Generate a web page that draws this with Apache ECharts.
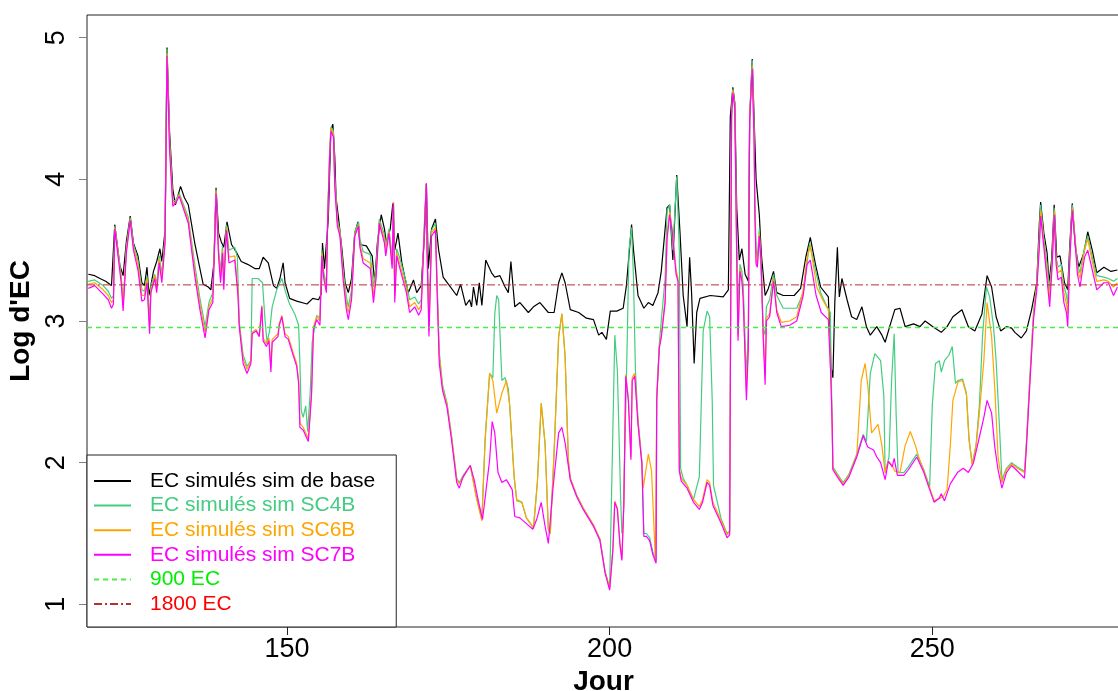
<!DOCTYPE html>
<html>
<head>
<meta charset="utf-8">
<script src="https://cdn.jsdelivr.net/npm/echarts@6.0.0/dist/echarts.min.js"></script>
<style>
  html, body { margin: 0; padding: 0; background: #fff; }
  #chart { width: 1118px; height: 691px; }
</style>
</head>
<body>
<div id="chart"></div>
<script>
// axis ranges and ticks
const dayMin = 119, dayMax = 279.1;
const logMin = 0.84, logMax = 5.16;
const dayTicks = [150, 200, 250];
const logTicks = [1, 2, 3, 4, 5];

// thresholds (log10 of EC)
const seuil900 = 2.954;
const seuil1800 = 3.255;

// [jour, log EC]
const simBase = [[119.2,3.33],[120.2,3.32],[121.0,3.30],[121.9,3.28],[122.8,3.25],[123.3,3.68],[124.1,3.39],[124.6,3.32],[125.1,3.56],[125.7,3.74],[126.2,3.55],[126.9,3.46],[127.5,3.27],[127.9,3.25],[128.3,3.38],[128.6,3.18],[129.3,3.35],[129.8,3.42],[130.3,3.51],[130.6,3.42],[131.1,3.64],[131.4,4.93],[131.8,4.33],[132.3,3.93],[132.7,3.82],[133.5,3.95],[134.1,3.87],[134.7,3.82],[135.7,3.55],[136.5,3.37],[137.0,3.26],[137.8,3.24],[138.2,3.22],[138.7,3.42],[139.0,3.94],[139.4,3.62],[139.8,3.56],[140.2,3.52],[140.7,3.70],[141.4,3.54],[142.1,3.49],[142.9,3.42],[143.9,3.40],[145.0,3.37],[145.7,3.37],[146.3,3.45],[147.1,3.41],[147.9,3.25],[148.4,3.23],[148.9,3.30],[149.4,3.41],[149.7,3.27],[150.4,3.16],[151.5,3.14],[153.1,3.12],[154.0,3.16],[154.9,3.15],[155.3,3.19],[155.5,3.55],[155.8,3.37],[156.4,3.72],[156.8,4.35],[157.1,4.39],[157.4,4.16],[157.6,3.87],[158.0,3.72],[158.5,3.51],[159.0,3.27],[159.5,3.20],[160.0,3.30],[160.5,3.62],[161.0,3.70],[161.3,3.54],[162.3,3.53],[163.2,3.46],[163.6,3.27],[164.0,3.55],[164.6,3.75],[165.1,3.65],[165.4,3.55],[166.0,3.65],[166.4,3.83],[166.7,3.50],[167.2,3.62],[167.8,3.41],[168.3,3.30],[168.8,3.20],[169.6,3.29],[170.1,3.20],[170.8,3.25],[171.3,3.60],[171.6,3.97],[171.9,3.37],[172.4,3.65],[173.0,3.72],[173.5,3.50],[174.2,3.31],[175.0,3.26],[176.3,3.18],[176.9,3.26],[177.7,3.11],[178.3,3.15],[178.6,3.10],[178.9,3.24],[179.4,3.11],[179.8,3.27],[180.2,3.11],[180.8,3.43],[181.7,3.34],[182.2,3.31],[183.0,3.32],[183.8,3.24],[184.3,3.20],[184.7,3.42],[185.3,3.10],[186.1,3.13],[187.4,3.06],[188.2,3.10],[189.2,3.13],[190.5,3.06],[191.4,3.06],[192.1,3.27],[192.6,3.34],[193.1,3.27],[193.9,3.08],[195.2,3.06],[196.4,3.02],[197.5,3.01],[198.3,2.90],[198.8,2.92],[199.5,2.87],[200.1,3.07],[201.1,3.07],[202.1,3.09],[202.6,3.25],[203.4,3.68],[203.7,3.50],[204.4,3.18],[205.3,3.09],[206.0,3.13],[206.7,3.11],[207.5,3.20],[208.0,3.35],[208.9,3.80],[209.3,3.82],[209.8,3.43],[210.4,4.03],[210.9,3.63],[211.4,3.18],[212.0,2.96],[212.4,3.45],[212.7,3.20],[213.1,2.70],[213.5,3.06],[214.0,3.16],[215.6,3.18],[217.6,3.17],[218.4,3.22],[218.7,4.44],[219.1,4.65],[219.4,4.54],[219.7,3.80],[220.1,3.43],[220.5,3.51],[221.0,3.33],[221.5,3.28],[221.7,4.42],[222.1,4.85],[222.4,4.42],[222.7,4.00],[223.2,3.75],[223.5,3.48],[224.1,3.18],[224.6,3.23],[225.4,3.35],[225.9,3.20],[226.9,3.18],[228.6,3.18],[229.6,3.23],[230.4,3.45],[231.1,3.59],[231.9,3.40],[232.7,3.24],[233.9,3.17],[234.3,2.68],[234.6,2.60],[234.9,3.13],[235.3,3.52],[235.6,3.17],[236.0,3.30],[236.8,3.15],[237.5,3.03],[238.3,3.01],[239.1,3.10],[239.8,2.96],[240.4,2.90],[241.4,2.96],[242.2,2.90],[242.7,2.85],[243.4,2.96],[244.2,3.08],[245.0,3.09],[245.8,2.96],[247.1,2.98],[248.1,2.96],[248.9,3.00],[250.1,2.96],[251.4,2.92],[252.3,2.96],[253.2,3.03],[254.6,3.08],[255.6,2.96],[256.6,2.93],[257.7,3.05],[258.5,3.32],[259.2,3.24],[259.9,3.03],[260.6,2.93],[261.5,2.96],[262.3,2.95],[262.8,2.92],[263.8,2.88],[264.6,2.93],[265.4,3.08],[266.2,3.27],[266.6,3.69],[266.8,3.84],[267.3,3.62],[267.8,3.48],[268.1,3.27],[268.5,3.43],[268.9,3.82],[269.3,3.45],[269.8,3.46],[270.5,3.27],[271.0,3.22],[271.3,3.52],[271.7,3.83],[272.2,3.52],[272.7,3.38],[273.5,3.48],[274.1,3.63],[274.8,3.50],[275.5,3.34],[276.6,3.38],[277.7,3.35],[278.7,3.36]];

const simSC4B = [[119.2,3.28],[120.2,3.29],[121.5,3.25],[122.3,3.21],[122.8,3.16],[123.1,3.18],[123.3,3.67],[123.7,3.53],[124.3,3.32],[124.6,3.12],[125.1,3.52],[125.7,3.73],[126.2,3.54],[126.9,3.43],[127.5,3.22],[127.9,3.21],[128.3,3.32],[128.7,3.00],[128.9,3.25],[129.5,3.33],[129.8,3.26],[130.2,3.46],[130.6,3.33],[131.1,3.60],[131.4,4.92],[131.8,4.28],[132.3,3.85],[132.7,3.85],[133.3,3.90],[134.7,3.73],[135.7,3.40],[136.5,3.16],[137.3,2.96],[137.9,3.13],[138.5,3.20],[139.0,3.93],[139.4,3.50],[139.7,3.35],[140.0,3.53],[140.2,3.32],[140.6,3.68],[141.0,3.50],[141.9,3.52],[142.3,3.45],[142.6,2.99],[143.2,2.76],[143.8,2.68],[144.4,2.72],[144.6,3.30],[145.5,3.30],[146.2,3.27],[146.6,3.00],[146.9,2.85],[147.3,2.93],[147.7,3.10],[148.4,3.22],[149.2,3.30],[149.8,3.20],[150.4,3.12],[151.2,3.05],[151.8,2.97],[152.0,2.70],[152.2,2.37],[152.5,2.32],[152.9,2.40],[153.2,2.22],[153.6,2.50],[153.9,2.85],[154.6,3.04],[155.1,3.02],[155.4,3.50],[155.7,3.34],[156.1,3.26],[156.3,3.74],[156.6,4.18],[156.8,4.37],[157.2,4.34],[157.4,4.02],[157.8,3.71],[158.2,3.64],[158.7,3.36],[159.2,3.17],[159.5,3.10],[160.0,3.22],[160.5,3.63],[161.1,3.70],[161.3,3.58],[161.8,3.49],[162.9,3.47],[163.4,3.24],[163.8,3.38],[164.3,3.72],[165.1,3.61],[165.3,3.53],[165.8,3.65],[166.3,3.44],[166.5,3.84],[166.7,3.24],[167.0,3.51],[167.5,3.44],[168.5,3.27],[169.0,3.15],[169.8,3.17],[170.4,3.12],[170.8,3.15],[171.4,3.80],[171.6,3.97],[171.7,3.55],[172.0,2.98],[172.4,3.64],[173.0,3.69],[173.3,3.22],[173.6,2.78],[174.1,2.55],[174.8,2.42],[175.5,2.19],[176.3,1.89],[176.7,1.86],[177.3,1.91],[178.4,1.98],[179.3,1.77],[180.2,1.60],[180.7,2.16],[181.4,2.63],[181.9,2.60],[182.2,3.05],[182.5,3.18],[182.8,3.15],[183.3,2.58],[183.8,2.60],[184.3,2.52],[184.5,2.41],[185.2,1.90],[185.6,1.74],[186.4,1.72],[187.1,1.61],[188.2,1.54],[188.8,1.86],[189.4,2.42],[190.0,2.13],[190.5,1.53],[190.8,1.50],[191.4,2.08],[192.1,2.89],[192.6,3.05],[193.1,2.75],[193.6,2.02],[193.9,1.89],[194.9,1.77],[195.9,1.68],[197.5,1.56],[198.5,1.46],[199.3,1.23],[200.0,1.12],[200.4,2.00],[200.8,2.90],[201.2,2.65],[201.7,1.76],[201.9,1.50],[202.1,1.57],[202.7,2.80],[203.0,3.50],[203.4,3.66],[203.7,3.30],[204.0,2.65],[204.4,2.30],[205.0,2.01],[205.3,1.50],[205.7,1.50],[206.2,1.47],[206.7,1.37],[207.2,1.31],[207.3,2.46],[207.7,2.84],[208.0,3.00],[208.6,3.30],[208.9,3.78],[209.3,3.82],[209.8,3.50],[210.4,4.02],[210.8,3.50],[211.0,1.96],[211.4,1.89],[212.0,1.84],[213.0,1.74],[213.9,1.90],[214.5,2.93],[215.1,3.07],[215.5,3.03],[215.9,2.44],[216.1,1.84],[217.3,1.60],[218.2,1.50],[218.6,1.52],[218.9,4.46],[219.1,4.64],[219.4,4.52],[219.7,3.60],[219.9,3.10],[220.2,3.40],[220.5,3.35],[220.7,3.25],[221.2,2.60],[221.5,2.95],[221.7,4.44],[222.1,4.84],[222.4,4.35],[222.5,3.90],[222.7,3.50],[222.9,3.45],[223.2,3.65],[223.5,3.30],[223.8,2.95],[224.1,2.90],[224.3,3.10],[224.8,3.15],[225.4,3.33],[225.9,3.18],[226.9,3.09],[229.0,3.09],[230.0,3.20],[231.0,3.55],[232.0,3.34],[232.7,3.20],[233.6,3.11],[234.2,3.06],[234.4,2.50],[234.6,1.97],[235.3,1.92],[236.2,1.86],[237.1,1.92],[238.3,2.06],[239.3,2.20],[239.8,2.15],[240.4,2.63],[241.1,2.77],[241.4,2.78],[242.0,2.72],[242.5,2.47],[242.7,1.93],[243.3,2.04],[243.7,2.58],[244.1,2.91],[244.4,2.35],[244.7,1.93],[245.6,1.93],[246.3,1.97],[247.6,2.06],[248.7,1.95],[249.6,1.83],[250.0,2.40],[250.5,2.70],[251.1,2.72],[251.4,2.64],[251.9,2.72],[252.6,2.76],[253.1,2.82],[253.6,2.56],[254.0,2.58],[254.7,2.59],[255.3,2.49],[255.7,2.17],[256.2,1.99],[256.8,2.13],[257.3,2.40],[257.8,2.90],[258.4,3.24],[258.9,3.17],[259.5,2.96],[259.9,2.72],[260.4,2.27],[260.8,1.88],[261.5,1.96],[262.3,2.00],[263.2,1.97],[264.3,1.94],[264.6,2.15],[265.1,2.58],[265.7,3.07],[266.2,3.26],[266.6,3.62],[266.8,3.82],[267.3,3.58],[267.8,3.40],[268.2,3.22],[268.6,3.45],[268.9,3.80],[269.2,3.45],[269.5,3.38],[270.0,3.40],[270.4,3.25],[270.8,3.18],[271.0,3.12],[271.3,3.47],[271.7,3.82],[272.2,3.55],[272.5,3.40],[272.9,3.34],[273.6,3.52],[274.1,3.60],[274.8,3.45],[275.5,3.32],[276.6,3.31],[277.3,3.30],[278.1,3.28],[278.7,3.30]];

const simSC6B = [[119.2,3.26],[120.2,3.27],[121.5,3.22],[122.3,3.18],[122.8,3.13],[123.1,3.15],[123.3,3.66],[123.7,3.52],[124.3,3.30],[124.6,3.10],[125.1,3.50],[125.7,3.72],[126.2,3.52],[126.9,3.40],[127.5,3.18],[127.9,3.18],[128.3,3.30],[128.7,2.95],[128.9,3.22],[129.5,3.32],[129.8,3.23],[130.2,3.44],[130.6,3.30],[131.1,3.58],[131.4,4.89],[131.8,4.25],[132.3,3.83],[132.7,3.84],[133.3,3.89],[134.7,3.71],[135.7,3.36],[136.5,3.12],[137.3,2.92],[137.9,3.10],[138.5,3.16],[139.0,3.92],[139.4,3.48],[139.7,3.30],[140.0,3.50],[140.2,3.26],[140.6,3.66],[141.0,3.45],[141.9,3.46],[142.4,3.22],[142.6,2.98],[143.2,2.73],[143.8,2.66],[144.4,2.72],[144.6,2.92],[145.2,2.94],[145.7,2.90],[146.1,3.11],[146.3,2.88],[146.8,2.84],[147.2,2.88],[147.5,2.67],[147.7,2.87],[148.6,2.91],[148.8,2.98],[149.2,3.04],[149.7,2.91],[150.2,2.89],[151.0,2.77],[151.5,2.70],[151.8,2.58],[152.0,2.28],[152.5,2.25],[153.0,2.20],[153.3,2.17],[153.5,2.30],[153.8,2.50],[154.1,2.96],[154.6,3.03],[155.1,3.00],[155.4,3.48],[155.7,3.32],[156.1,3.23],[156.3,3.73],[156.6,4.17],[156.8,4.36],[157.2,4.32],[157.4,3.98],[157.8,3.69],[158.2,3.62],[158.7,3.32],[159.2,3.12],[159.5,3.06],[160.0,3.18],[160.5,3.61],[161.1,3.68],[161.3,3.54],[161.8,3.44],[162.9,3.41],[163.4,3.18],[163.8,3.33],[164.3,3.70],[165.1,3.58],[165.3,3.50],[165.8,3.63],[166.3,3.40],[166.5,3.84],[166.7,3.18],[167.0,3.48],[167.5,3.40],[168.5,3.23],[169.0,3.10],[169.8,3.13],[170.4,3.08],[170.8,3.11],[171.4,3.79],[171.6,3.97],[171.7,3.52],[172.0,2.93],[172.4,3.62],[173.0,3.66],[173.3,3.18],[173.6,2.75],[174.1,2.53],[174.8,2.41],[175.5,2.18],[176.3,1.88],[176.7,1.85],[177.3,1.90],[178.4,1.98],[179.3,1.76],[180.2,1.59],[180.7,2.16],[181.4,2.63],[181.9,2.58],[182.5,2.35],[183.3,2.49],[184.0,2.58],[184.5,2.41],[185.2,1.90],[185.6,1.73],[186.4,1.72],[187.1,1.61],[188.2,1.54],[188.8,1.86],[189.4,2.42],[190.0,2.13],[190.5,1.53],[190.8,1.50],[191.4,2.08],[192.1,2.89],[192.6,3.05],[193.1,2.75],[193.6,2.02],[193.9,1.89],[194.9,1.77],[195.9,1.68],[197.5,1.56],[198.5,1.46],[199.3,1.23],[200.0,1.11],[200.5,1.39],[200.8,1.73],[201.2,1.68],[201.6,1.43],[201.9,1.32],[202.2,1.71],[202.5,2.62],[202.9,2.46],[203.3,2.04],[203.5,2.60],[203.9,2.63],[204.4,2.29],[205.0,2.00],[205.2,1.82],[206.0,2.06],[206.5,1.94],[207.1,1.30],[207.3,2.46],[207.7,2.82],[208.0,2.90],[208.6,3.15],[208.9,3.60],[209.3,3.77],[209.7,3.65],[210.3,3.36],[210.6,3.30],[210.8,1.96],[211.1,1.89],[212.0,1.84],[213.0,1.74],[213.9,1.69],[214.4,1.74],[215.1,1.88],[215.5,1.86],[216.0,1.72],[217.3,1.59],[218.2,1.49],[218.6,1.51],[218.9,4.45],[219.1,4.63],[219.4,4.51],[219.7,3.45],[219.9,2.90],[220.2,3.37],[220.5,3.30],[220.7,3.18],[221.2,2.50],[221.5,2.84],[221.7,4.43],[222.1,4.80],[222.4,4.28],[222.5,3.80],[222.7,3.42],[222.9,3.40],[223.2,3.62],[223.5,3.42],[223.8,2.92],[224.1,2.62],[224.3,3.02],[224.8,3.05],[225.4,3.30],[225.9,3.08],[226.6,2.99],[227.9,3.00],[229.0,3.03],[230.0,3.22],[230.6,3.45],[231.1,3.53],[232.1,3.24],[233.0,3.15],[233.9,3.08],[234.3,2.60],[234.5,2.27],[234.6,1.96],[235.3,1.91],[236.2,1.85],[237.1,1.91],[238.3,2.05],[239.0,2.58],[239.6,2.70],[240.0,2.55],[240.6,2.21],[241.1,2.24],[241.6,2.27],[242.2,2.12],[242.7,1.93],[243.2,2.01],[243.8,1.98],[244.2,1.94],[245.0,1.93],[245.8,2.12],[246.6,2.22],[247.4,2.12],[247.9,2.04],[248.7,1.94],[249.7,1.81],[250.3,1.73],[251.7,1.76],[252.3,1.81],[252.8,2.12],[253.2,2.44],[254.0,2.57],[254.7,2.58],[255.3,2.48],[255.7,2.16],[256.2,1.98],[256.8,2.12],[257.3,2.35],[258.0,2.72],[258.5,3.13],[259.2,2.89],[259.7,2.52],[260.2,2.04],[260.8,1.86],[261.5,1.95],[262.3,1.99],[263.2,1.96],[264.3,1.93],[264.6,2.13],[265.1,2.56],[265.7,3.04],[266.2,3.25],[266.6,3.56],[266.8,3.78],[267.3,3.55],[267.8,3.34],[268.2,3.16],[268.6,3.43],[268.9,3.78],[269.2,3.43],[269.5,3.34],[270.0,3.36],[270.4,3.20],[270.8,3.12],[271.0,3.05],[271.3,3.43],[271.7,3.80],[272.2,3.55],[272.5,3.37],[272.9,3.30],[273.6,3.50],[274.1,3.58],[274.8,3.42],[275.5,3.28],[276.6,3.29],[277.3,3.28],[278.1,3.24],[278.7,3.27]];

const simSC7B = [[119.2,3.23],[120.2,3.25],[121.5,3.19],[122.3,3.15],[122.8,3.09],[123.1,3.12],[123.3,3.65],[123.7,3.50],[124.3,3.27],[124.6,3.07],[125.1,3.48],[125.7,3.71],[126.2,3.50],[126.9,3.36],[127.5,3.14],[127.9,3.15],[128.3,3.27],[128.7,2.91],[128.9,3.20],[129.5,3.30],[129.8,3.20],[130.2,3.41],[130.6,3.27],[131.1,3.55],[131.4,4.87],[131.8,4.20],[132.3,3.81],[132.7,3.83],[133.3,3.88],[134.7,3.69],[135.7,3.32],[136.5,3.08],[137.3,2.88],[137.9,3.08],[138.5,3.13],[139.0,3.90],[139.4,3.45],[139.7,3.27],[140.0,3.48],[140.2,3.22],[140.6,3.64],[141.0,3.41],[141.9,3.43],[142.4,3.18],[142.6,2.96],[143.2,2.70],[143.8,2.63],[144.4,2.70],[144.6,2.91],[145.2,2.93],[145.7,2.89],[146.1,3.10],[146.3,2.86],[146.8,2.82],[147.2,2.86],[147.5,2.64],[147.7,2.85],[148.6,2.89],[148.8,2.97],[149.2,3.03],[149.7,2.89],[150.2,2.87],[151.0,2.75],[151.5,2.68],[151.8,2.56],[152.0,2.25],[152.5,2.23],[153.0,2.18],[153.3,2.15],[153.5,2.28],[153.8,2.48],[154.1,2.94],[154.6,3.01],[155.1,2.97],[155.4,3.46],[155.7,3.30],[156.1,3.20],[156.3,3.72],[156.6,4.15],[156.8,4.34],[157.2,4.30],[157.4,3.95],[157.8,3.67],[158.2,3.60],[158.7,3.29],[159.2,3.08],[159.5,3.01],[160.0,3.15],[160.5,3.60],[161.1,3.67],[161.3,3.52],[161.8,3.41],[162.9,3.37],[163.4,3.13],[163.8,3.30],[164.3,3.69],[165.1,3.55],[165.3,3.46],[165.8,3.62],[166.3,3.37],[166.5,3.83],[166.7,3.13],[167.0,3.46],[167.5,3.37],[168.5,3.20],[169.0,3.06],[169.8,3.10],[170.4,3.04],[170.8,3.08],[171.4,3.78],[171.6,3.97],[171.7,3.50],[172.0,2.89],[172.4,3.60],[173.0,3.64],[173.3,3.15],[173.6,2.70],[174.1,2.51],[174.8,2.39],[175.5,2.16],[176.3,1.86],[176.7,1.82],[177.3,1.90],[178.4,1.98],[179.0,1.88],[179.7,1.72],[180.3,1.60],[180.7,1.75],[181.4,2.02],[181.8,2.29],[182.2,2.21],[182.7,1.93],[183.3,1.86],[184.0,1.88],[184.9,1.81],[185.3,1.62],[186.1,1.61],[187.1,1.57],[188.1,1.53],[188.7,1.60],[189.4,1.72],[190.0,1.55],[190.5,1.43],[191.2,1.81],[192.1,2.21],[192.6,2.25],[193.1,2.14],[193.9,1.88],[194.9,1.76],[195.9,1.67],[197.5,1.55],[198.5,1.45],[199.3,1.22],[200.0,1.10],[200.5,1.38],[200.8,1.72],[201.2,1.67],[201.6,1.42],[201.9,1.31],[202.2,1.70],[202.5,2.61],[202.9,2.44],[203.3,2.02],[203.5,2.58],[203.9,2.61],[204.4,2.27],[205.0,1.99],[205.3,1.48],[205.7,1.48],[206.2,1.45],[206.7,1.35],[207.2,1.29],[207.3,2.44],[207.7,2.81],[208.0,2.88],[208.6,3.13],[208.9,3.58],[209.3,3.75],[209.7,3.63],[210.3,3.33],[210.6,3.28],[210.8,1.94],[211.1,1.87],[212.0,1.82],[213.0,1.72],[213.9,1.67],[214.4,1.72],[215.1,1.86],[215.5,1.84],[216.0,1.70],[217.3,1.57],[218.2,1.47],[218.6,1.49],[218.9,4.44],[219.1,4.61],[219.4,4.50],[219.7,3.43],[219.9,2.86],[220.2,3.35],[220.5,3.28],[220.7,3.16],[221.2,2.44],[221.5,2.81],[221.7,4.42],[222.1,4.78],[222.4,4.25],[222.5,3.78],[222.7,3.40],[222.9,3.38],[223.2,3.60],[223.5,3.40],[223.8,2.88],[224.1,2.55],[224.3,3.00],[224.8,3.03],[225.4,3.28],[225.9,3.06],[226.6,2.96],[227.9,2.97],[229.0,3.00],[230.0,3.18],[230.6,3.40],[231.1,3.43],[232.0,3.18],[232.8,3.06],[233.9,3.01],[234.3,2.58],[234.5,2.25],[234.6,1.95],[235.3,1.90],[236.2,1.84],[237.1,1.90],[238.3,2.04],[239.3,2.19],[240.0,2.11],[240.9,2.09],[241.4,2.04],[242.0,2.00],[242.7,1.88],[243.2,2.01],[243.8,1.97],[244.1,2.03],[244.6,1.91],[245.6,1.91],[246.3,1.95],[247.6,2.04],[248.7,1.93],[249.6,1.81],[250.3,1.72],[251.1,1.75],[251.4,1.78],[251.9,1.73],[252.8,1.85],[253.9,1.93],[254.8,1.96],[255.6,1.93],[256.4,2.00],[257.2,2.16],[258.0,2.32],[258.5,2.44],[259.2,2.35],[259.7,2.11],[260.2,1.95],[260.8,1.82],[261.5,1.93],[262.3,1.98],[263.0,1.95],[264.3,1.89],[264.6,2.11],[265.1,2.53],[265.7,3.01],[266.2,3.22],[266.6,3.52],[266.8,3.74],[267.3,3.52],[267.8,3.29],[268.2,3.10],[268.6,3.40],[268.9,3.75],[269.2,3.40],[269.5,3.29],[270.0,3.31],[270.4,3.13],[270.8,3.06],[271.0,2.96],[271.3,3.40],[271.7,3.78],[272.2,3.52],[272.5,3.33],[272.9,3.24],[273.6,3.45],[274.1,3.50],[274.8,3.36],[275.5,3.22],[276.6,3.27],[277.3,3.27],[278.1,3.18],[278.7,3.24]];

const seriesNames = ['EC simulés sim de base', 'EC simulés sim SC4B', 'EC simulés sim SC6B', 'EC simulés sim SC7B', '900 EC', '1800 EC'];
const lineColors = ['#000000', '#43CD80', '#FFA500', '#FF00FF', '#4CEB4C', '#B83030'];
const textColors = ['#000000', '#43CD80', '#FFA500', '#FF00FF', '#00EE00', '#FF0000'];

const font = 'Liberation Sans, Arial, sans-serif';

const makeLine = (name, data, color, width, type) => ({
    name: name,
    type: 'line',
    data: data,
    symbol: 'none',
    showSymbol: false,
    silent: true,
    animation: false,
    lineStyle: { color: color, width: width, type: type },
    itemStyle: { color: color },
});

const chart = echarts.init(document.getElementById('chart'));

const option = {
    backgroundColor: '#ffffff',
    animation: false,
    grid: {
        left: 87,
        top: 15,
        right: -2,
        bottom: 64,
        outerBoundsMode: 'none',
        containLabel: false,
        show: true,
        borderColor: '#222',
        borderWidth: 1,
        backgroundColor: 'transparent',
    },
    xAxis: {
        type: 'value',
        min: dayMin,
        max: dayMax,
        name: 'Jour',
        nameLocation: 'middle',
        nameGap: 39,
        nameTextStyle: { fontFamily: font, fontSize: 28, fontWeight: 'bold', color: '#000' },
        axisLine: { show: false },
        axisTick: { show: true, length: 8, lineStyle: { color: '#222' }, customValues: dayTicks },
        axisLabel: { fontFamily: font, fontSize: 27, color: '#000', margin: 9, customValues: dayTicks },
        splitLine: { show: false },
    },
    yAxis: {
        type: 'value',
        min: logMin,
        max: logMax,
        name: "Log d'EC",
        nameLocation: 'middle',
        nameRotate: 90,
        nameGap: 42,
        nameTextStyle: { fontFamily: font, fontSize: 28, fontWeight: 'bold', color: '#000' },
        axisLine: { show: false },
        axisTick: { show: true, length: 8, lineStyle: { color: '#808080' }, customValues: logTicks },
        axisLabel: { fontFamily: font, fontSize: 27, color: '#000', rotate: 90, margin: 17, customValues: logTicks },
        splitLine: { show: false },
    },
    legend: {
        orient: 'vertical',
        left: 87,
        bottom: 64,
        padding: [15, 21, 12, 6],
        itemWidth: 37,
        itemHeight: 14,
        itemGap: 2.6,
        borderColor: '#222',
        borderWidth: 1,
        borderRadius: 0,
        backgroundColor: '#ffffff',
        selectedMode: false,
        itemStyle: { opacity: 0 },
        textStyle: { fontFamily: font, fontSize: 21, lineHeight: 22, padding: [0, 0, 0, 14] },
        data: seriesNames.map((n, i) => ({ name: n, textStyle: { color: textColors[i] } })),
    },
    series: [
        makeLine(seriesNames[0], simBase, lineColors[0], 1.2, 'solid'),
        makeLine(seriesNames[1], simSC4B, lineColors[1], 1.2, 'solid'),
        makeLine(seriesNames[2], simSC6B, lineColors[2], 1.2, 'solid'),
        makeLine(seriesNames[3], simSC7B, lineColors[3], 1.2, 'solid'),
        makeLine(seriesNames[4], [[dayMin, seuil900], [dayMax, seuil900]], lineColors[4], 1.4, [5, 4]),
        makeLine(seriesNames[5], [[dayMin, seuil1800], [dayMax, seuil1800]], lineColors[5], 1, [8, 3, 2, 3]),
    ],
};

chart.setOption(option);
</script>
</body>
</html>
